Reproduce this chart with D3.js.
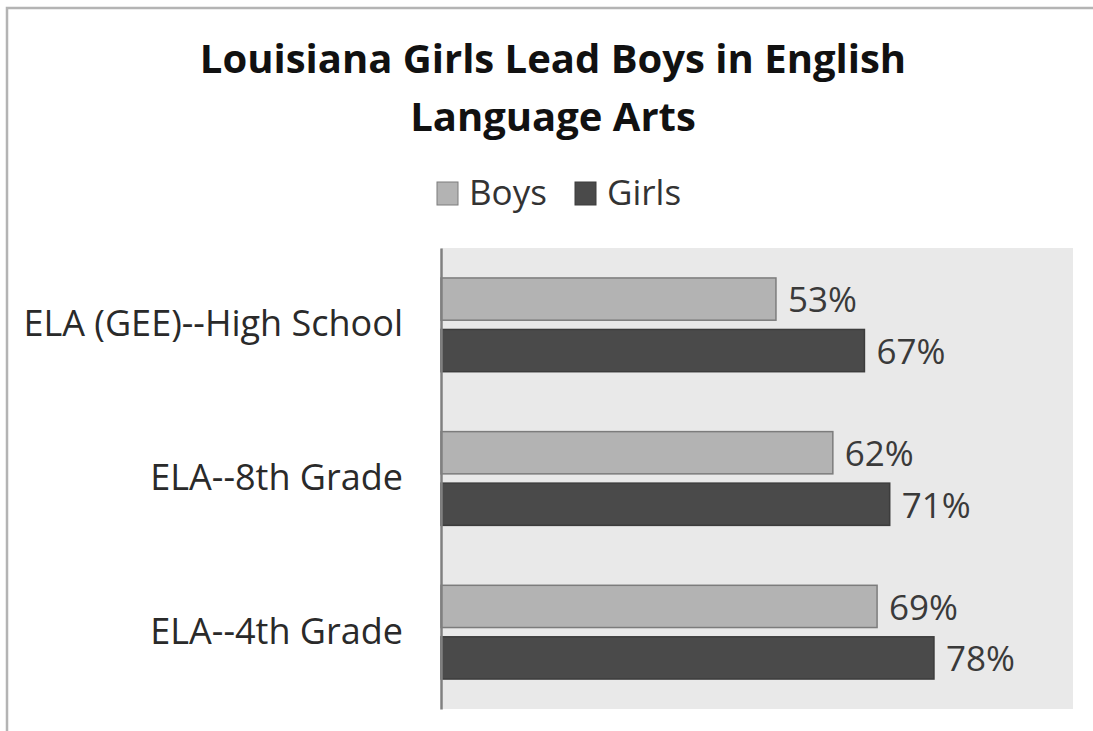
<!DOCTYPE html>
<html>
<head>
<meta charset="utf-8">
<script src="https://cdnjs.cloudflare.com/ajax/libs/d3/7.8.5/d3.min.js"></script>
<style>
  body { margin: 0; background: #fff; }
  text { font-family: "Open Sans", sans-serif; }
</style>
</head>
<body>
<div id="chart"></div>
<script>
// chart data
var categories = ["ELA (GEE)--High School", "ELA--8th Grade", "ELA--4th Grade"];
var seriesNames = ["Boys", "Girls"];
var boysValues = [53, 62, 69];
var girlsValues = [67, 71, 78];
var titleLines = ["Louisiana Girls Lead Boys in English", "Language Arts"];

var colors = { "Boys": "#b3b3b3", "Girls": "#4a4a4a" };
var strokes = { "Boys": "#7c7c7c", "Girls": "#3c3c3c" };

const width = 1093;
const height = 731;
const plot = { left: 441, right: 1073, top: 248, bottom: 709 };

const svg = d3.select("#chart")
    .append("svg")
    .attr("width", width)
    .attr("height", height);

// outer border (top and left visible only)
svg.append("path")
    .attr("d", "M7,731 L7,8 L1093,8")
    .attr("fill", "none")
    .attr("stroke", "#b4b4b4")
    .attr("stroke-width", 2.5);

// title
svg.selectAll(".title")
    .data(titleLines)
    .enter().append("text")
    .attr("class", "title")
    .attr("x", 553)
    .attr("y", (d, i) => 73 + i * 58)
    .attr("text-anchor", "middle")
    .style("font-size", "40px")
    .style("font-weight", "bold")
    .attr("fill", "#111")
    .text(d => d);

// legend
var legendX = [437, 575];
var legendG = svg.selectAll(".legend")
    .data(seriesNames)
    .enter().append("g")
    .attr("class", "legend")
    .attr("transform", (d, i) => "translate(" + legendX[i] + ",182)");

legendG.append("rect")
    .attr("width", 21)
    .attr("height", 23)
    .attr("fill", d => colors[d])
    .attr("stroke", d => strokes[d]);

legendG.append("text")
    .attr("x", 32)
    .attr("y", 23)
    .style("font-size", "35px")
    .attr("fill", "#333")
    .text(d => d);

// scales
const x = d3.scaleLinear()
    .domain([0, 100])
    .range([plot.left, plot.right]);

const y = d3.scaleBand()
    .domain(categories)
    .range([plot.top, plot.bottom])
    .paddingInner(0.39)
    .paddingOuter(0.195);

const ySub = d3.scaleBand()
    .domain(seriesNames)
    .range([0, y.bandwidth()])
    .paddingInner(0.18);

// plot background
svg.append("rect")
    .attr("x", plot.left)
    .attr("y", plot.top)
    .attr("width", plot.right - plot.left)
    .attr("height", plot.bottom - plot.top)
    .attr("fill", "#e9e9e9");

var rows = [];
categories.forEach(function (c, i) {
    rows.push({ cat: c, series: "Boys", value: boysValues[i] });
    rows.push({ cat: c, series: "Girls", value: girlsValues[i] });
});

svg.selectAll(".bar")
    .data(rows)
    .enter().append("rect")
    .attr("class", "bar")
    .attr("x", x(0))
    .attr("y", d => y(d.cat) + ySub(d.series))
    .attr("width", d => x(d.value) - x(0))
    .attr("height", ySub.bandwidth())
    .attr("fill", d => colors[d.series])
    .attr("stroke", d => strokes[d.series])
    .attr("stroke-width", 1.5);

// value labels
svg.selectAll(".value")
    .data(rows)
    .enter().append("text")
    .attr("class", "value")
    .attr("x", d => x(d.value) + 12)
    .attr("y", d => y(d.cat) + ySub(d.series) + ySub.bandwidth() / 2)
    .attr("dy", "0.38em")
    .style("font-size", "35px")
    .attr("fill", "#3a3a3a")
    .text(d => d.value + "%");

// category axis
const yAxis = svg.append("g")
    .attr("transform", "translate(" + plot.left + ",0)")
    .call(d3.axisLeft(y).tickSize(0).tickPadding(38));

yAxis.select(".domain")
    .attr("stroke", "#808080")
    .attr("stroke-width", 2.5);

yAxis.selectAll("text")
    .style("font-size", "36px")
    .attr("fill", "#2a2a2a");
</script>
</body>
</html>
